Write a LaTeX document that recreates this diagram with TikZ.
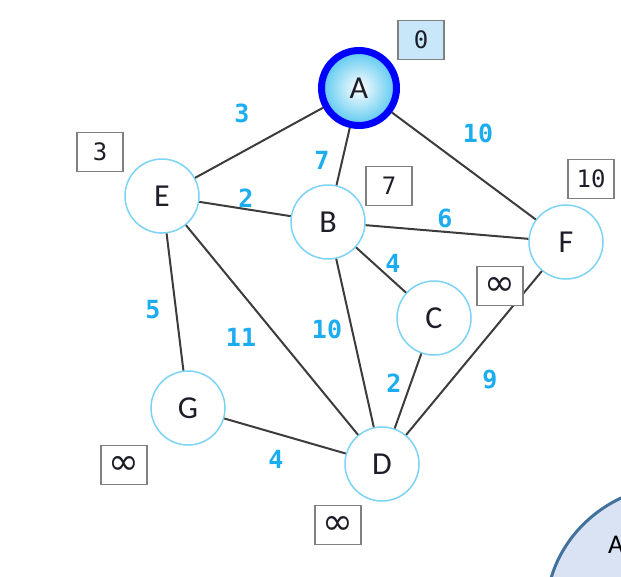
\documentclass[tikz,border=0pt]{standalone}
\usepackage{fontspec}
\setmainfont{Carlito}
\newfontfamily\monofont{DejaVu Sans Mono}
\newfontfamily\symfont{DejaVu Sans}
\usetikzlibrary{shapes.geometric}
\definecolor{nodeline}{RGB}{125,211,245}
\definecolor{edgecol}{RGB}{60,60,60}
\definecolor{wcol}{RGB}{28,172,240}
\definecolor{boxline}{RGB}{128,128,128}
\definecolor{startfill}{RGB}{200,232,250}
\definecolor{afill}{RGB}{90,200,240}
\definecolor{ellfill}{RGB}{218,227,243}
\definecolor{ellline}{RGB}{65,113,156}
\definecolor{txt}{RGB}{30,30,40}
\tikzset{
  vtx/.style={circle,draw=nodeline,line width=1.5pt,fill=white,minimum size=74pt,inner sep=0pt,font=\fontsize{32}{32}\selectfont,text=txt},
  srcvtx/.style={circle,draw=blue,line width=7pt,inner color=white,outer color=afill,minimum size=75pt,inner sep=0pt,font=\fontsize{32}{32}\selectfont,text=txt},
  edge/.style={draw=edgecol,line width=2pt},
  wlab/.style={font=\monofont\bfseries\fontsize{25}{25}\selectfont,text=wcol,inner sep=0pt},
  distbox/.style={draw=boxline,line width=1.5pt,fill=white,minimum width=46pt,minimum height=39pt,inner sep=0pt,font=\monofont\fontsize{24}{24}\selectfont,text=txt},
  infbox/.style={distbox,font=\symfont\fontsize{37}{37}\selectfont}
}
\begin{document}
\begin{tikzpicture}[x=1pt,y=-1pt]
\useasboundingbox (0,0) rectangle (621,576);
% partial ellipse bottom right
\begin{scope}
\clip (0,0) rectangle (621,576);
\node[ellipse,draw=ellline,line width=3pt,fill=ellfill,minimum width=268pt,minimum height=256pt] (ell) at (680,613) {};
\node[anchor=west,inner sep=0pt,font=\fontsize{27}{27}\selectfont] (elltext) at (608,545) {A};
\end{scope}
% vertices
\node[srcvtx] (A) at (359,88) {A};
\node[vtx] (E) at (162,196) {E};
\node[vtx] (B) at (328,222) {B};
\node[vtx] (F) at (566,242) {F};
\node[vtx] (C) at (434,318) {C};
\node[vtx] (G) at (188,408) {G};
\node[vtx] (D) at (382,464) {D};
% edges
\draw[edge] (A) -- (E);
\draw[edge] (A) -- (B);
\draw[edge] (A) -- (F);
\draw[edge] (E) -- (B);
\draw[edge] (B) -- (F);
\draw[edge] (B) -- (C);
\draw[edge] (E) -- (G);
\draw[edge] (E) -- (D);
\draw[edge] (B) -- (D);
\draw[edge] (C) -- (D);
\draw[edge] (F) -- (D);
\draw[edge] (G) -- (D);
% weights
\node[wlab] (wAE) at (242,113) {3};
\node[wlab] (wAB) at (322,160) {7};
\node[wlab] (wAF) at (478,133) {10};
\node[wlab] (wEB) at (246,198) {2};
\node[wlab] (wBF) at (445,218) {6};
\node[wlab] (wBC) at (393,263) {4};
\node[wlab] (wEG) at (153,310) {5};
\node[wlab] (wED) at (241,337) {11};
\node[wlab] (wBD) at (327,329) {10};
\node[wlab] (wCD) at (394,383) {2};
\node[wlab] (wFD) at (490,380) {9};
\node[wlab] (wGD) at (276,459) {4};
% distance boxes
\node[distbox,fill=startfill] (dA) at (421,40) {0};
\node[distbox] (dE) at (100,152) {3};
\node[distbox] (dB) at (389,186) {7};
\node[distbox] (dF) at (591,179) {10};
\node[infbox] (dC) at (500,286) {∞};
\node[infbox] (dG) at (124,465) {∞};
\node[infbox] (dD) at (338,525) {∞};
\end{tikzpicture}
\end{document}
